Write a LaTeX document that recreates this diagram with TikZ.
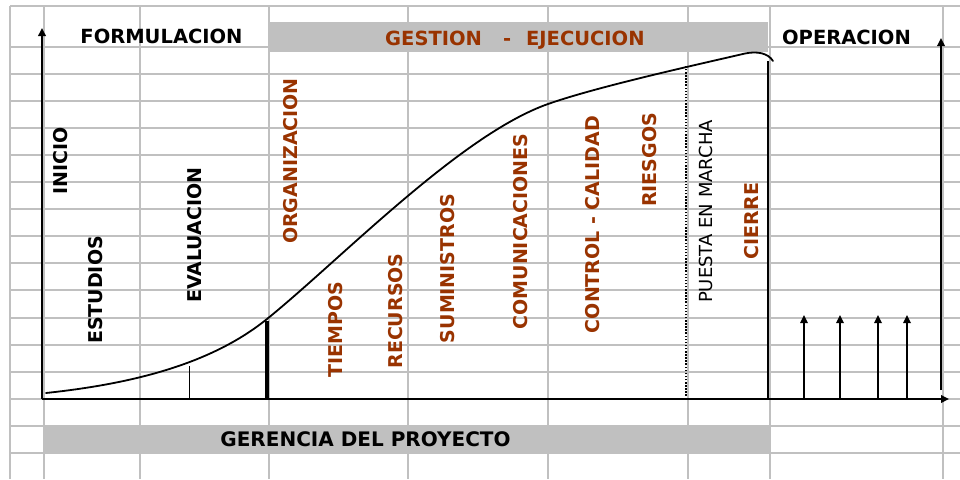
\documentclass[tikz,border=0pt]{standalone}
\usepackage{fontspec}
\setmainfont{DejaVu Sans}
\usetikzlibrary{arrows.meta}
\definecolor{gridgray}{RGB}{192,192,192}
\definecolor{bargray}{RGB}{192,192,192}
\definecolor{phasebrown}{RGB}{153,51,0}
\begin{document}
\begin{tikzpicture}[x=1pt,y=-1pt,
  gridline/.style={draw=gridgray, line width=1.2pt},
  bar/.style={fill=bargray, draw=none},
  axisline/.style={line width=1.8pt, -{Triangle[length=8pt,width=7.5pt]}},
  tickarrow/.style={line width=1.6pt, -{Triangle[length=8pt,width=7.5pt]}},
  hlabel/.style={font=\fontsize{19.5}{20}\selectfont\bfseries, inner sep=0pt, anchor=base},
  vlabel/.style={font=\fontsize{19}{20}\selectfont\bfseries, inner sep=0pt, anchor=base, rotate=90},
  plainv/.style={font=\fontsize{18}{20}\selectfont, inner sep=0pt, anchor=base, rotate=90},
  brownlbl/.style={text=phasebrown}
]
\useasboundingbox (0,0) rectangle (960,479);
\fill[white] (0,0) rectangle (960,479);
% grid
\foreach \gy in {6,47,74,101,128,155,182,209,236,263,290,318,345,372,399,426,453}
  \draw[gridline] (10,\gy) -- (960,\gy);
\foreach \gx in {10,44,140,269,408,548,688,770,943}
  \draw[gridline] (\gx,6) -- (\gx,479);
% bars
\fill[bar] (268,22) rectangle (768,52);
\fill[bar] (43,426) rectangle (770,453);
% headings
\node[hlabel] (formulacion) at (161.5,43) {FORMULACION};
\node[hlabel, anchor=base west, brownlbl] (gestion) at (385,45) {GESTION\hspace{21pt}-\hspace{15pt}EJECUCION};
\node[hlabel] (operacion) at (846.5,44) {OPERACION};
\node[hlabel, font=\fontsize{20}{20}\selectfont\bfseries] (gerencia) at (365.5,446) {GERENCIA DEL PROYECTO};
% vertical labels
\node[vlabel] (inicio) at (67,161) {INICIO};
\node[vlabel] (estudios) at (102,290) {ESTUDIOS};
\node[vlabel] (evaluacion) at (201,235) {EVALUACION};
\node[vlabel, brownlbl] (organizacion) at (297,161) {ORGANIZACION};
\node[vlabel, brownlbl] (tiempos) at (342,329.5) {TIEMPOS};
\node[vlabel, brownlbl] (recursos) at (402,311) {RECURSOS};
\node[vlabel, brownlbl] (suministros) at (454,268.5) {SUMINISTROS};
\node[vlabel, brownlbl] (comunicaciones) at (527,231.5) {COMUNICACIONES};
\node[vlabel, brownlbl] (control) at (599,224.5) {CONTROL - CALIDAD};
\node[vlabel, brownlbl] (riesgos) at (656,160) {RIESGOS};
\node[plainv] (puesta) at (712,211.5) {PUESTA EN MARCHA};
\node[vlabel, brownlbl] (cierre) at (758,221) {CIERRE};
% axes
\coordinate (origin) at (42,399);
\coordinate (ytop) at (42,28);
\coordinate (xend) at (949,399);
\coordinate (rbot) at (941,390);
\coordinate (rtop) at (941,38);
\draw[axisline] (origin) -- (ytop);
\draw[axisline] (origin) -- (xend);
\draw[axisline] (rbot) -- (rtop);
% operation arrows
\foreach \ax/\nm in {804/a,840/b,878/c,907/d}{
  \coordinate (op\nm0) at (\ax,399);
  \coordinate (op\nm1) at (\ax,315);
  \draw[tickarrow] (op\nm0) -- (op\nm1);
}
% S-curve
\draw[line width=1.8pt, line join=round, line cap=round]
  (46,393) .. controls (130,384) and (210,365) .. (267,319)
  .. controls (340,260) and (460,135) .. (548,104)
  .. controls (598,86.4) and (700,64) .. (745,53.5)
  .. controls (757,51) and (768,53) .. (773,61);
% drop lines
\coordinate (evalb) at (189,399); \coordinate (evalt) at (189,366);
\coordinate (orgb) at (267,399); \coordinate (orgt) at (267,321);
\coordinate (pmb) at (686,399); \coordinate (pmt) at (686,66);
\coordinate (cib) at (768,399); \coordinate (cit) at (768,61);
\draw[line width=1pt] (evalb) -- (evalt);
\draw[line width=3.5pt] (orgb) -- (orgt);
\draw[line width=1.9pt, dash pattern=on 1.5pt off 1.6pt] (pmb) -- (pmt);
\draw[line width=1.8pt] (cib) -- (cit);
\end{tikzpicture}
\end{document}
